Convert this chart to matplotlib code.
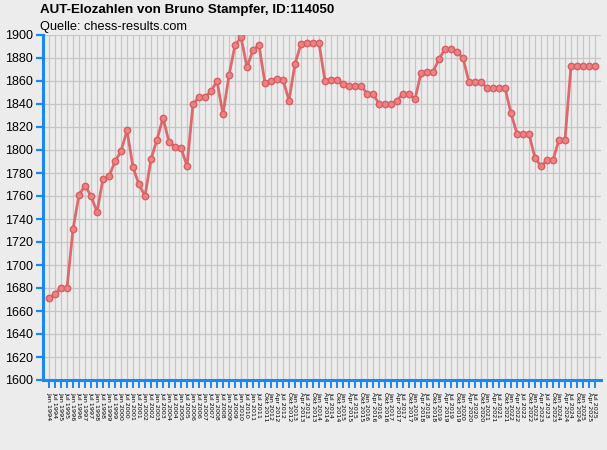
import matplotlib

matplotlib.use("Agg")
import matplotlib.pyplot as plt

# Halbjährliche Listen bis Jul 2011, danach vierteljährlich
HALBJAHR = ["Jan", "Jul"]
QUARTAL = ["Jan", "Apr", "Jul", "Okt"]

labels = [f"{m} {y}" for y in range(1994, 2012) for m in HALBJAHR]
labels += ["Okt 2011"]
labels += [f"{m} {y}" for y in range(2012, 2025) for m in QUARTAL]
labels += ["Jan 2025", "Apr 2025", "Jul 2025"]

elo = [
    1671, 1675, 1680, 1680, 1731, 1761, 1769, 1760, 1746, 1775,
    1777, 1790, 1799, 1817, 1785, 1770, 1760, 1792, 1809, 1828,
    1807, 1803, 1802, 1786, 1840, 1846, 1846, 1851, 1860, 1831,
    1865, 1891, 1898, 1872, 1887, 1891, 1858, 1860, 1862, 1861,
    1843, 1875, 1892, 1893, 1893, 1893, 1860, 1861, 1861, 1857,
    1856, 1856, 1856, 1849, 1849, 1840, 1840, 1840, 1843, 1849,
    1849, 1844, 1867, 1868, 1868, 1879, 1888, 1888, 1885, 1880,
    1859, 1859, 1859, 1854, 1854, 1854, 1854, 1832, 1814, 1814,
    1814, 1793, 1786, 1791, 1791, 1809, 1809, 1873, 1873, 1873,
    1873, 1873,
]

TITEL = "AUT-Elozahlen von Bruno Stampfer, ID:114050"
QUELLE = "Quelle: chess-results.com"

BG = "#ececec"
BLAU = "#1a88f2"
ROT = "#dc5c5f"

plt.rcParams["font.family"] = ["Liberation Sans", "DejaVu Sans"]

fig = plt.figure(figsize=(6.07, 4.5), dpi=100, facecolor=BG)
ax = fig.add_axes([43 / 607, 1 - 380 / 450, 558 / 607, 345 / 450], facecolor=BG)

x = list(range(1, len(elo) + 1))
ax.plot(x, elo, "-", color=ROT, lw=2, alpha=0.9, zorder=3)
ax.plot(x, elo, "o", ms=4.6, mfc="#e88486", mec=ROT, mew=1.0, zorder=4)

ax.set_xlim(0, len(elo) + 1)
ax.set_ylim(1600, 1900)
ax.set_yticks(range(1600, 1901, 20))
ax.set_xticks(x)
ax.set_xticklabels(labels, rotation=270, fontsize=4.6, family="DejaVu Sans")
ax.tick_params(axis="y", labelsize=9, length=5, width=1.6, color=BLAU, pad=2)
ax.tick_params(axis="x", length=6, width=1.4, color=BLAU, pad=3)

ax.grid(True, color="#c6c6c6", lw=0.9, zorder=0)
ax.set_axisbelow(True)
for side in ("top", "right"):
    ax.spines[side].set_visible(False)
for side in ("left", "bottom"):
    ax.spines[side].set_color(BLAU)
    ax.spines[side].set_linewidth(2.2)

fig.text(40 / 607, 1 - 4 / 450, TITEL, fontsize=9.6, fontweight="bold", va="top", ha="left")
fig.text(40 / 607, 1 - 21 / 450, QUELLE, fontsize=9.2, va="top", ha="left")

fig.savefig("out.png", dpi=100, facecolor=BG)
